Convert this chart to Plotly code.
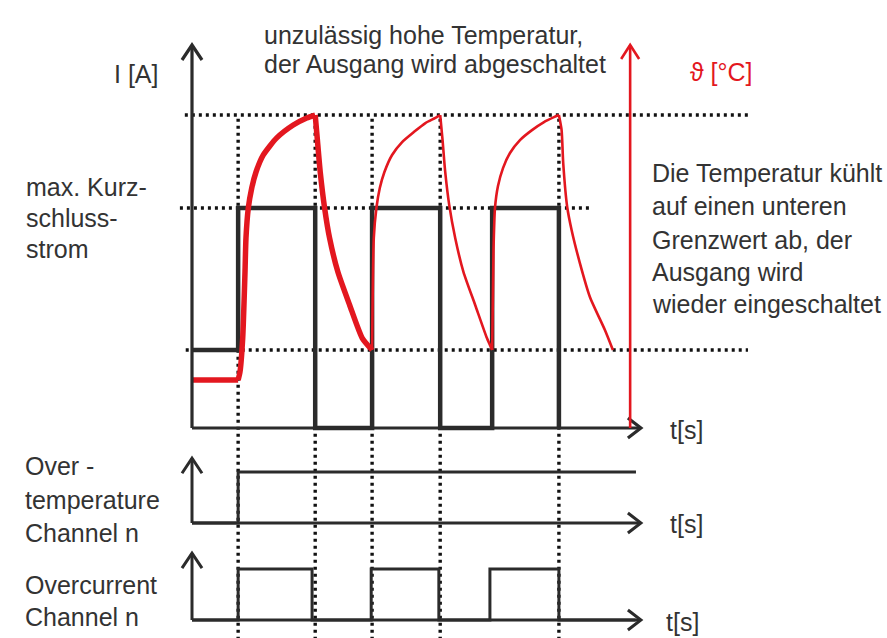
import plotly.graph_objects as go

# ---------------- data (time in arbitrary units, t = 0 at the origin) ----------------
# output current I (relative, 1 = max. short-circuit current)
current_t = [0, 1.03, 1.03, 2.75, 2.75, 4.02, 4.02, 5.54, 5.54, 6.70, 6.70, 8.19, 8.19]
current_i = [0.355, 0.355, 1.0, 1.0, 0.0, 0.0, 1.0, 1.0, 0.0, 0.0, 1.0, 1.0, 0.0]

# temperature (°C)
temp_flat_t = [0, 1.03]
temp_flat_v = [44.7, 44.7]
rise1_t = [1.03, 1.071, 1.132, 1.183, 1.205, 1.257, 1.333, 1.429, 1.592, 1.891, 2.261, 2.560, 2.75]
rise1_v = [44.7, 48.8, 66.1, 99.8, 117.2, 132.5, 142.7, 150.9, 159.6, 168.3, 174.9, 178.5, 180.0]
decay1_t = [2.75, 2.795, 2.862, 2.960, 3.071, 3.257, 3.518, 3.799, 4.02]
decay1_v = [180.0, 168.3, 150.9, 132.5, 117.2, 99.8, 83.0, 66.1, 60.0]
rise2_t = [4.02, 4.058, 4.116, 4.192, 4.295, 4.466, 4.690, 4.951, 5.210, 5.433, 5.54]
rise2_v = [60.0, 117.2, 132.5, 142.7, 150.9, 159.6, 166.2, 171.3, 175.9, 178.5, 180.0]
decay2_t = [5.54, 5.591, 5.652, 5.741, 5.875, 6.060, 6.321, 6.583, 6.70]
decay2_v = [180.0, 167.7, 150.9, 134.1, 117.2, 99.8, 83.0, 66.1, 60.0]
rise3_t = [6.70, 6.730, 6.763, 6.830, 6.942, 7.098, 7.321, 7.589, 7.857, 8.080, 8.19]
rise3_v = [60.0, 111.1, 132.5, 143.7, 152.9, 160.6, 167.2, 172.3, 176.4, 178.9, 180.0]
decay3_t = [8.19, 8.25, 8.286, 8.375, 8.473, 8.658, 8.882, 9.217, 9.395]
decay3_v = [180.0, 172.3, 155.5, 133.0, 121.3, 104.4, 87.1, 70.2, 60.0]

T_HIGH = 180.0
T_LOW = 60.0
I_MAX = 1.0

# digital status signals
overtemp_t = [0, 1.03, 1.03, 9.91]
overtemp_v = [0, 0, 1, 1]
overcurrent_t = [0, 1.03, 1.03, 2.68, 2.68, 4.00, 4.00, 5.51, 5.51, 6.65, 6.65, 8.19, 8.19, 9.9]
overcurrent_v = [0, 0, 1, 1, 0, 0, 1, 1, 0, 0, 1, 1, 0, 0]

switch_times = [1.03, 2.75, 4.02, 5.54, 8.19]
T_AXIS_END = 10.02
TEMP_AXIS_T = 9.78

# ---------------- styling ----------------
W, H = 887, 638
BLACK = "#2b2b2b"
RED = "#e3171f"
TXT = "#333333"
FONT = "Liberation Sans, Arial, sans-serif"
FS = 25


def px(xp):
    return xp / W


def py(yp):
    return 1 - yp / H


fig = go.Figure()

# current
fig.add_trace(go.Scatter(x=current_t, y=current_i, mode="lines", yaxis="y",
                         line=dict(color=BLACK, width=4.5), hoverinfo="skip"))
# temperature
thick = [(temp_flat_t, temp_flat_v, "linear"), (rise1_t, rise1_v, "spline"),
         (decay1_t, decay1_v, "spline")]
thin = [(rise2_t, rise2_v), (decay2_t, decay2_v), (rise3_t, rise3_v), (decay3_t, decay3_v)]
for tt, vv, shp in thick:
    fig.add_trace(go.Scatter(x=tt, y=vv, mode="lines", yaxis="y4",
                             line=dict(color=RED, width=5.5, shape=shp, smoothing=0.6),
                             hoverinfo="skip"))
for tt, vv in thin:
    fig.add_trace(go.Scatter(x=tt, y=vv, mode="lines", yaxis="y4",
                             line=dict(color=RED, width=2.6, shape="spline", smoothing=0.6),
                             hoverinfo="skip"))
# status signals
fig.add_trace(go.Scatter(x=overtemp_t, y=overtemp_v, mode="lines", yaxis="y2",
                         line=dict(color=BLACK, width=3), hoverinfo="skip"))
fig.add_trace(go.Scatter(x=overcurrent_t, y=overcurrent_v, mode="lines", yaxis="y3",
                         line=dict(color=BLACK, width=3), hoverinfo="skip"))

shapes = []
DOT = dict(color="#111111", width=3.4, dash="3px,4px")

# dotted guide lines
shapes.append(dict(type="line", xref="x", yref="y4", x0=-0.16, x1=12.41, y0=T_HIGH, y1=T_HIGH,
                   line=DOT, layer="below"))
shapes.append(dict(type="line", xref="x", yref="y4", x0=-0.14, x1=12.41, y0=T_LOW, y1=T_LOW,
                   line=DOT, layer="below"))
shapes.append(dict(type="line", xref="x", yref="y", x0=-0.27, x1=8.93, y0=I_MAX, y1=I_MAX,
                   line=DOT, layer="below"))
for st in switch_times:
    shapes.append(dict(type="line", xref="x", yref="y4", x0=st, x1=st, y0=-88, y1=T_HIGH,
                       line=DOT, layer="below"))


def axes_pair(yref, ytop, width=3):
    out = [
        dict(type="line", xref="x", yref=yref, x0=0, x1=0, y0=0, y1=ytop,
             line=dict(color=BLACK, width=width)),
        dict(type="line", xref="x", yref=yref, x0=0, x1=T_AXIS_END, y0=0, y1=0,
             line=dict(color=BLACK, width=width)),
        dict(type="path", xref="x", yref=yref, xsizemode="pixel", ysizemode="pixel",
             xanchor=0, yanchor=ytop, path="M -10,-15 L 0,0 L 10,-15",
             line=dict(color=BLACK, width=width)),
        dict(type="path", xref="x", yref=yref, xsizemode="pixel", ysizemode="pixel",
             xanchor=T_AXIS_END, yanchor=0, path="M -13,10 L 0,0 L -13,-10",
             line=dict(color=BLACK, width=width)),
    ]
    return out


shapes += axes_pair("y", 1.741, 3.2)
shapes += axes_pair("y2", 1.27, 3)
shapes += axes_pair("y3", 1.31, 3)

# red temperature axis
shapes.append(dict(type="line", xref="x", yref="y", x0=TEMP_AXIS_T, x1=TEMP_AXIS_T, y0=0, y1=1.741,
                   line=dict(color=RED, width=2.6)))
shapes.append(dict(type="path", xref="x", yref="y", xsizemode="pixel", ysizemode="pixel",
                   xanchor=TEMP_AXIS_T, yanchor=1.741, path="M -9,-14 L 0,0 L 9,-14",
                   line=dict(color=RED, width=2.6)))

# ---------------- texts ----------------
texts = [
    ("I [A]", 112, 74, TXT),
    ("max. Kurz-", 24, 187, TXT),
    ("schluss-", 24, 218, TXT),
    ("strom", 24, 249, TXT),
    ("unzulässig hohe Temperatur,", 262, 35, TXT),
    ("der Ausgang wird abgeschaltet", 262, 64, TXT),
    ("ϑ [°C]", 688, 72, RED),
    ("Die Temperatur kühlt", 650, 173, TXT),
    ("auf einen unteren", 650, 206, TXT),
    ("Grenzwert ab, der", 650, 240, TXT),
    ("Ausgang wird", 650, 272, TXT),
    ("wieder eingeschaltet", 650, 304, TXT),
    ("t[s]", 668, 430, TXT),
    ("t[s]", 668, 524, TXT),
    ("t[s]", 664, 622, TXT),
    ("Over -", 23, 466, TXT),
    ("temperature", 23, 500, TXT),
    ("Channel n", 23, 533, TXT),
    ("Overcurrent", 23, 585, TXT),
    ("Channel n", 23, 617, TXT),
]
annotations = [
    dict(text=t, x=px(x), y=py(y), xref="paper", yref="paper", xanchor="left", yanchor="middle",
         showarrow=False, font=dict(family=FONT, size=FS, color=c))
    for t, x, y, c in texts
]

hidden = dict(visible=False, showgrid=False, zeroline=False, fixedrange=True)
fig.update_layout(
    width=W, height=H, autosize=False,
    margin=dict(l=0, r=0, t=0, b=0),
    paper_bgcolor="white", plot_bgcolor="white",
    showlegend=False,
    xaxis=dict(range=[-192 / 44.8, 695 / 44.8], **hidden),
    yaxis=dict(range=[-0.9545, 1.9455], **hidden),
    yaxis2=dict(range=[-2.2549, 10.2549], overlaying="y", **hidden),
    yaxis3=dict(range=[-0.3529, 12.1569], overlaying="y", **hidden),
    yaxis4=dict(range=[-87.07, 238.73], overlaying="y", **hidden),
    shapes=shapes,
    annotations=annotations,
)

fig.write_html("out.html", config={"displayModeBar": False},
               post_script="document.body.style.margin='0';")
